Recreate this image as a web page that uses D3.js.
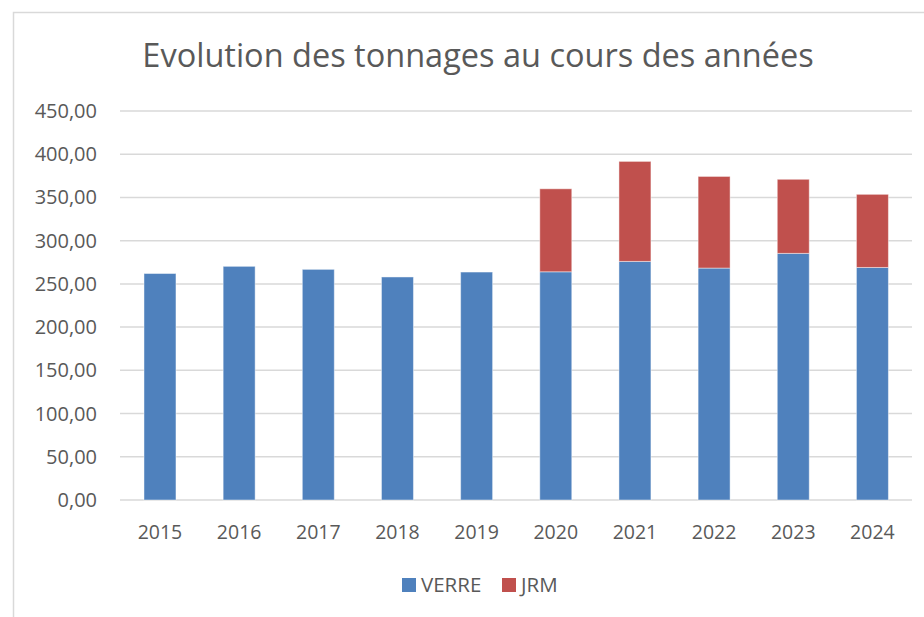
<!DOCTYPE html>
<html>
<head>
<meta charset="utf-8">
<script src="https://cdn.jsdelivr.net/npm/d3@7"></script>
<style>
  body { margin: 0; background: #fff; }
  svg { display: block; font-family: "Open Sans", sans-serif; }
</style>
</head>
<body>
<div id="chart"></div>
<script>
// === DATA ===
const years = ["2015", "2016", "2017", "2018", "2019", "2020", "2021", "2022", "2023", "2024"];
const verre = [262, 270.3, 266.8, 258, 263.7, 264, 276, 268.3, 285.3, 269];
const jrm = [0, 0, 0, 0, 0, 96, 115.7, 106, 85.7, 84.6];
const yTicks = [0, 50, 100, 150, 200, 250, 300, 350, 400, 450];
const seriesNames = ["VERRE", "JRM"];
const seriesColors = ["#4f81bd", "#c0504d"];

const width = 924, height = 617;
const textColor = "#595959";
const gridColor = "#d9d9d9";

const svg = d3.select("#chart").append("svg")
  .attr("width", width)
  .attr("height", height);

// chart frame
svg.append("rect")
  .attr("x", 13.5).attr("y", 12.5)
  .attr("width", 930).attr("height", 630)
  .attr("fill", "none")
  .attr("stroke", gridColor)
  .attr("stroke-width", 1.5);

// === SCALES ===
const x = d3.scaleBand()
  .domain(years)
  .range([120.4, 912])
  .paddingInner(0.596)
  .paddingOuter(0.298);

const y = d3.scaleLinear()
  .domain([0, 450])
  .range([500, 111]);

// gridlines
svg.append("g")
  .selectAll("line")
  .data(yTicks)
  .join("line")
  .attr("x1", 120).attr("x2", 912)
  .attr("y1", d => y(d)).attr("y2", d => y(d))
  .attr("stroke", gridColor)
  .attr("stroke-width", 1.5);

// y tick labels
svg.append("g")
  .selectAll("text")
  .data(yTicks)
  .join("text")
  .attr("x", 97)
  .attr("y", d => y(d))
  .attr("dy", "0.35em")
  .attr("text-anchor", "end")
  .attr("font-size", "20px")
  .attr("fill", textColor)
  .text(d => d3.format(".2f")(d).replace(".", ","));

// x tick labels
svg.append("g")
  .selectAll("text")
  .data(years)
  .join("text")
  .attr("x", d => x(d) + x.bandwidth() / 2)
  .attr("y", 539)
  .attr("text-anchor", "middle")
  .attr("font-size", "19.5px")
  .attr("fill", textColor)
  .text(d => d);

// === STACKED BARS ===
const rows = years.map((yr, i) => ({ year: yr, VERRE: verre[i], JRM: jrm[i] }));
const stack = d3.stack().keys(seriesNames)(rows);

svg.append("g")
  .selectAll("g")
  .data(stack)
  .join("g")
  .attr("fill", (d, i) => seriesColors[i])
  .selectAll("rect")
  .data(d => d.filter(s => s[1] - s[0] > 0))
  .join("rect")
  .attr("x", d => x(d.data.year))
  .attr("width", x.bandwidth())
  .attr("y", d => y(d[1]))
  .attr("height", d => y(d[0]) - y(d[1]))
  .attr("stroke", "#fff")
  .attr("stroke-opacity", 0.45)
  .attr("stroke-width", 1);

// === TITLE ===
svg.append("text")
  .attr("x", 478)
  .attr("y", 67)
  .attr("text-anchor", "middle")
  .attr("font-size", "32.5px")
  .attr("fill", textColor)
  .text("Evolution des tonnages au cours des années");

// === LEGEND ===
const legendX = [402, 502];
seriesNames.forEach((name, i) => {
  svg.append("rect")
    .attr("x", legendX[i]).attr("y", 578)
    .attr("width", 14).attr("height", 14)
    .attr("fill", seriesColors[i]);
  svg.append("text")
    .attr("x", legendX[i] + 19)
    .attr("y", 592)
    .attr("font-size", "20.5px")
    .attr("fill", textColor)
    .text(name);
});
</script>
</body>
</html>
